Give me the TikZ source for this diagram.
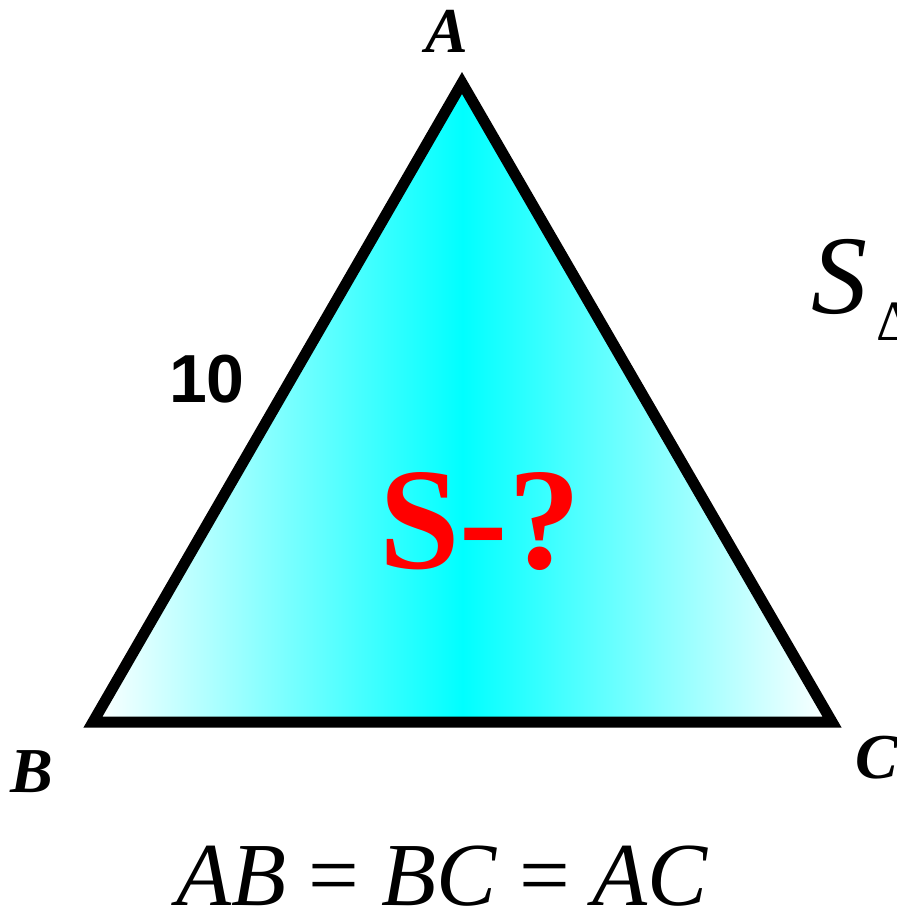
\documentclass[tikz,border=0pt]{standalone}
\usepackage{fontspec}
\setmainfont{Liberation Serif}
\newfontfamily\arialfont{Liberation Sans}
\begin{document}
\begin{tikzpicture}[x=1pt,y=-1pt,
  vlabel/.style={inner sep=0pt, anchor=base, font=\fontsize{64}{64}\selectfont\bfseries\itshape},
  edge/.style={line width=11pt, line join=miter}]
\useasboundingbox (0,0) rectangle (897,914);
\coordinate (A) at (462,83);
\coordinate (B) at (93,722);
\coordinate (C) at (832,722);
\shade[left color=white, right color=white, middle color=cyan] (A) -- (B) -- (C) -- cycle;
\draw[edge] (A) -- (B) -- (C) -- cycle;
\node[vlabel] (la) at (447,52) {A};
\node[vlabel] (lb) at (32,792) {B};
\node[vlabel, anchor=base west] (lc) at (855,778) {C};
\node[inner sep=0pt, anchor=base] (ten) at (207,402) {\arialfont\fontsize{68}{68}\selectfont\bfseries 10};
\node[inner sep=0pt, anchor=base, text=red] (sq) at (480,568) {\fontsize{145}{145}\selectfont\bfseries S-?};
\node[inner sep=0pt, anchor=base west] (s) at (811,313) {\fontsize{112}{112}\selectfont\itshape S};
\node[inner sep=0pt, anchor=base west] (delta) at (876,340) {\fontsize{57}{57}\selectfont Δ};
\node[inner sep=0pt, anchor=base] (eq) at (442,905) {\fontsize{90}{90}\selectfont\itshape AB\upshape\ = \itshape BC\upshape\ = \itshape AC};
\end{tikzpicture}
\end{document}
